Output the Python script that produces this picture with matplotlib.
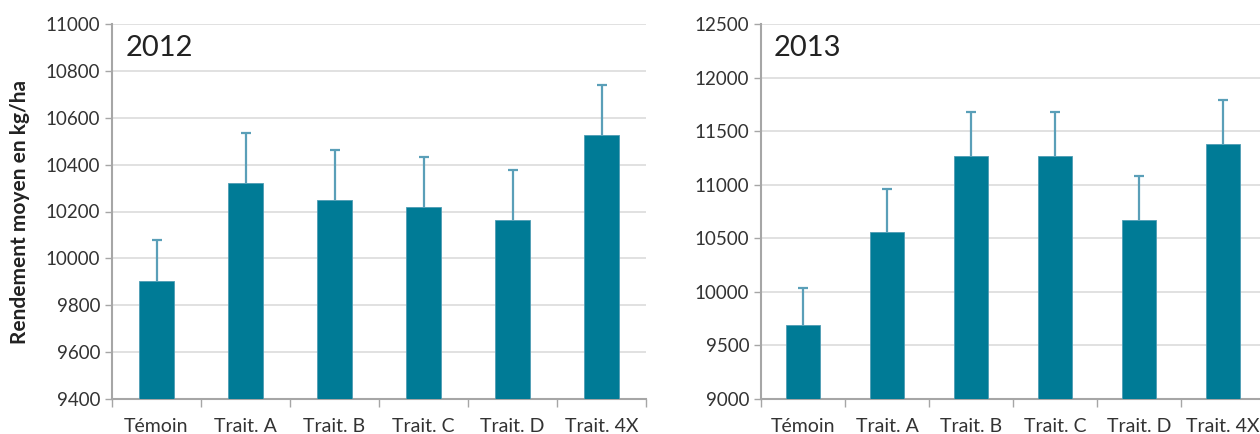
import matplotlib.pyplot as plt
import numpy as np

plt.rcParams['font.family'] = ['Lato', 'DejaVu Sans']

categories = ["Témoin", "Trait. A", "Trait. B", "Trait. C", "Trait. D", "Trait. 4X"]

# Rendement moyen (kg/ha) et écart (barre d'erreur vers le haut)
yield_2012 = [9905, 10322, 10250, 10220, 10165, 10525]
err_2012 = [175, 213, 213, 213, 213, 213]
yield_2013 = [9695, 10555, 11272, 11272, 10672, 11382]
err_2013 = [345, 408, 405, 405, 408, 410]

bar_color = "#007B96"
err_color = "#5A9FB8"
grid_color = "#DCDCDC"
spine_color = "#A6A6A6"
text_color = "#333333"

fig = plt.figure(figsize=(12.6, 4.34), dpi=100)
ax1 = fig.add_axes([112 / 1260, 35 / 434, 534 / 1260, 375 / 434])
ax2 = fig.add_axes([761 / 1260, 35 / 434, 504 / 1260, 375 / 434])


def draw_panel(ax, values, errors, year, ylim, step):
    x = np.arange(len(categories))
    ax.bar(x, values, width=0.4, color=bar_color, edgecolor="#4E9CB4",
           linewidth=0.6, zorder=3)
    _, caps, _ = ax.errorbar(x, values, yerr=[np.zeros(len(errors)), errors],
                             fmt="none", ecolor=err_color, elinewidth=1.6,
                             capsize=3.5, capthick=1.6, zorder=2)
    caps[0].set_visible(False)  # only the upper cap
    ax.set_xlim(-0.5, len(categories) - 0.5)
    ax.set_ylim(*ylim)
    ax.set_yticks(np.arange(ylim[0], ylim[1] + 1, step))
    ax.tick_params(axis="y", labelsize=13.5, colors=text_color, length=5,
                   color=spine_color, width=1)
    # category labels centred, tick marks on the boundaries
    ax.set_xticks(x)
    ax.set_xticklabels(categories, fontsize=14, color=text_color)
    ax.tick_params(axis="x", length=0, pad=14)
    ax.set_xticks(np.arange(-0.5, len(categories)), minor=True)
    ax.tick_params(axis="x", which="minor", length=6, color=spine_color, width=1)
    ax.grid(axis="y", color=grid_color, linewidth=1.2, zorder=0)
    ax.set_axisbelow(True)
    for side in ("top", "right"):
        ax.spines[side].set_visible(False)
    for side in ("left", "bottom"):
        ax.spines[side].set_color(spine_color)
        ax.spines[side].set_linewidth(1.5)
    ax.text(0.025, 0.935, year, transform=ax.transAxes, fontsize=21,
            color="#222222", va="center", ha="left")


draw_panel(ax1, yield_2012, err_2012, "2012", (9400, 11000), 200)
draw_panel(ax2, yield_2013, err_2013, "2013", (9000, 12500), 500)

ax1.set_ylabel("Rendement moyen en kg/ha", fontsize=15, fontweight="bold",
               color="#222222", labelpad=11)

fig.savefig("out.png", dpi=100)
